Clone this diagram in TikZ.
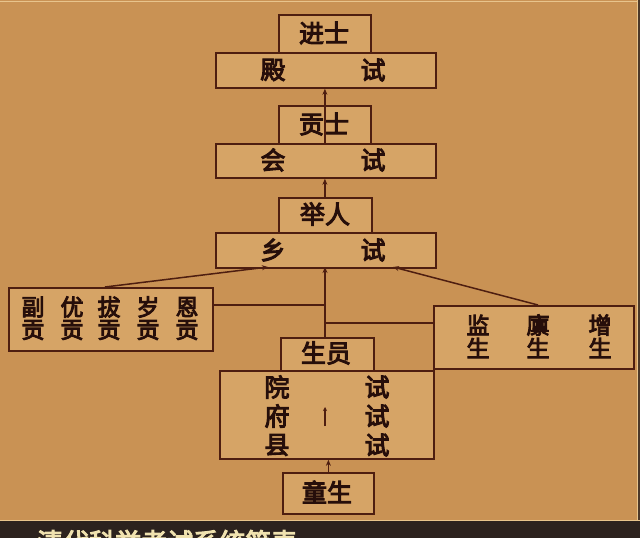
\documentclass[tikz,border=0pt]{standalone}
\usepackage{fontspec}
\newfontfamily\cjk[FakeBold=4]{Noto Sans CJK SC}
\usetikzlibrary{arrows.meta}
\definecolor{bg}{RGB}{201,146,84}
\definecolor{boxfill}{RGB}{214,164,102}
\definecolor{border}{RGB}{78,30,16}
\definecolor{ink}{RGB}{38,14,10}
\definecolor{band}{RGB}{44,34,30}
\definecolor{bandtext}{RGB}{240,226,175}
\definecolor{edge}{RGB}{232,196,140}
\begin{document}
\begin{tikzpicture}[x=1pt,y=-1pt,
  box/.style={draw=border, line width=1.8pt, fill=boxfill, inner sep=0pt, anchor=north west},
  ch/.style={font=\cjk\fontsize{25}{25}\selectfont, text=ink, inner sep=0pt},
  chs/.style={font=\cjk\fontsize{23}{23}\selectfont, text=ink, inner sep=0pt},
  ln/.style={draw=border, line width=1.5pt},
  arr/.style={ln, -{Stealth[length=6pt,width=5pt]}},
  sarr/.style={ln, line width=1.2pt, -{Stealth[length=4pt,width=4pt]}}]
\useasboundingbox (0,0) rectangle (640,538);
\fill[bg] (0,0) rectangle (640,538);
\draw[edge, line width=0.8pt] (0,1) -- (640,1);
\fill[band!80!bg] (638,0) rectangle (640,520);
\draw[edge, line width=0.8pt] (637,0) -- (637,520);

% boxes
\node[box, minimum width=220pt, minimum height=35pt] (dianshi) at (215,52) {};
\node[box, minimum width=92pt, minimum height=38pt] (jinshi) at (278,14) {};
\node[box, minimum width=220pt, minimum height=34pt] (huishi) at (215,143) {};
\node[box, minimum width=92pt, minimum height=38pt] (gongshi) at (278,105) {};
\node[box, minimum width=220pt, minimum height=35pt] (xiangshi) at (215,232) {};
\node[box, minimum width=93pt, minimum height=35pt] (juren) at (278,197) {};
\node[box, minimum width=204pt, minimum height=63pt] (gong) at (8,287) {};
\node[box, minimum width=200pt, minimum height=63pt] (sheng) at (433,305) {};
\node[box, minimum width=214pt, minimum height=88pt] (yuanshi) at (219,370) {};
\node[box, minimum width=93pt, minimum height=33pt] (shengyuan) at (280,337) {};
\node[box, minimum width=91pt, minimum height=41pt] (tongsheng) at (282,472) {};

% texts
\node[ch] (t-jinshi) at (324,33) {进士};
\node[ch] (t-dian) at (273,70) {殿};
\node[ch] (t-dianshi) at (373,70) {试};
\node[ch] (t-gongshi) at (324,124) {贡士};
\node[ch] (t-hui) at (273,160) {会};
\node[ch] (t-huishi) at (373,160) {试};
\node[ch] (t-juren) at (325,214) {举人};
\node[ch] (t-xiang) at (273,250) {乡};
\node[ch] (t-xiangshi) at (373,250) {试};

\foreach \c/\x [count=\i] in {副/33,优/72,拔/109,岁/148,恩/187}{
  \node[chs] (g-top-\i) at (\x,307) {\c};
  \node[chs] (g-bot-\i) at (\x,330) {贡};
}
\foreach \c/\x [count=\i] in {监/478,廪/538,增/600}{
  \node[chs] (s-top-\i) at (\x,325) {\c};
  \node[chs] (s-bot-\i) at (\x,348) {生};
}
\node[ch] (t-shengyuan) at (326,353) {生员};
\foreach \c/\y [count=\i] in {院/387,府/416,县/445}{
  \node[ch] (y-l-\i) at (277,\y) {\c};
  \node[ch] (y-r-\i) at (377,\y) {试};
}
\node[ch] (t-tongsheng) at (327,492) {童生};

% connectors
\draw[arr] (huishi.north -| jinshi.south) -- (dianshi.south -| jinshi.south);
\draw[arr] (juren.north -| gongshi.south) -- (huishi.south -| gongshi.south);
\coordinate (mid-top) at (325,267);
\coordinate (mid-bot) at (325,337);
\draw[arr] (mid-bot) -- (mid-top);
\coordinate (l-start) at (105,287);
\coordinate (l-end) at (268,267);
\draw[arr] (l-start) -- (l-end);
\coordinate (r-start) at (538,305);
\coordinate (r-end) at (393,267);
\draw[arr] (r-start) -- (r-end);
\coordinate (l-join) at (325,305);
\draw[ln] (gong.east |- l-join) -- (l-join);
\coordinate (r-join) at (325,323);
\draw[ln] (r-join) -- (sheng.west |- r-join);
\coordinate (in-a) at (325,426);
\coordinate (in-b) at (325,407);
\draw[sarr] (in-a) -- (in-b);
\draw[arr] (tongsheng.north) -- (tongsheng.north |- yuanshi.south);

% bottom caption band
\fill[band] (0,520) rectangle (640,538);
\draw[edge, line width=0.8pt] (0,520) -- (640,520);
\begin{scope}
\clip (0,521) rectangle (640,538);
\node[anchor=base west, inner sep=0pt, text=bandtext, font=\cjk\fontsize{26}{26}\selectfont] (caption) at (37,552) {清代科举考试系统简表};
\end{scope}
\end{tikzpicture}
\end{document}
